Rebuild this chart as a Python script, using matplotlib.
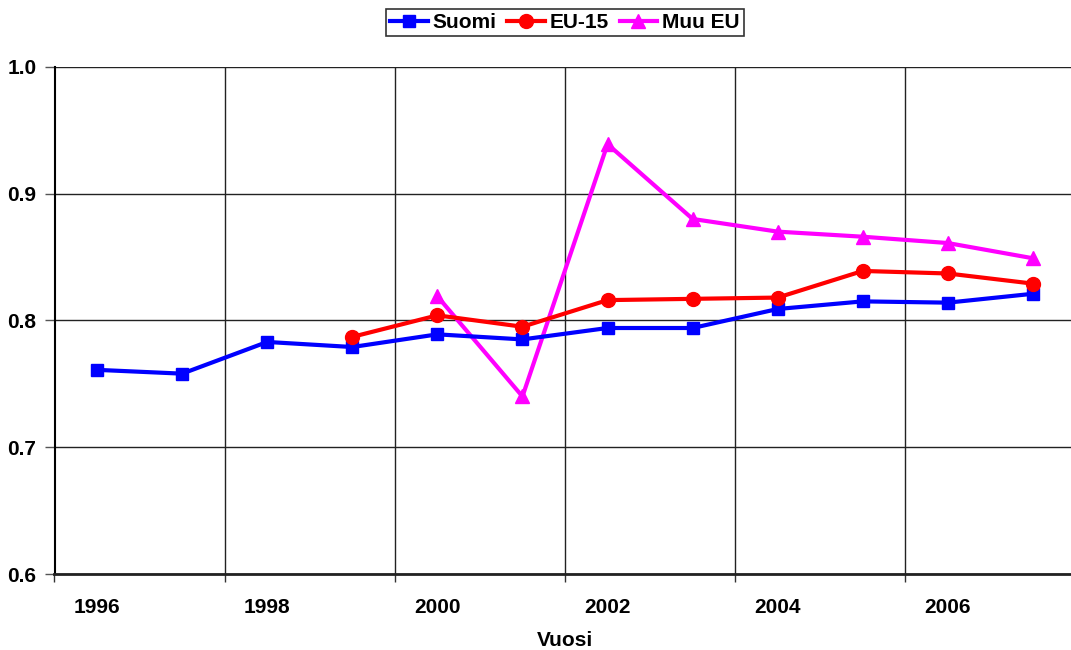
import matplotlib
matplotlib.use("Agg")
import matplotlib.pyplot as plt
from matplotlib.ticker import FixedLocator, NullFormatter

plt.rcParams['font.family'] = ['Liberation Sans', 'DejaVu Sans']

years = [1996, 1997, 1998, 1999, 2000, 2001, 2002, 2003, 2004, 2005, 2006, 2007]
suomi = [0.761, 0.758, 0.783, 0.779, 0.789, 0.785, 0.794, 0.794, 0.809, 0.815, 0.814, 0.821]
eu15 = [None, None, None, 0.787, 0.804, 0.795, 0.816, 0.817, 0.818, 0.839, 0.837, 0.829]
muu_eu = [None, None, None, None, 0.819, 0.740, 0.939, 0.880, 0.870, 0.866, 0.861, 0.849]
tick_labels = ['1996', '1998', '2000', '2002', '2004', '2006']
y_ticks = [0.6, 0.7, 0.8, 0.9, 1.0]

W, H = 1071, 650
fig = plt.figure(figsize=(W / 100, H / 100), dpi=100)
left, right, top, bottom = 54.5, 1075.5, 66.8, 574.0
ax = fig.add_axes([left / W, 1 - bottom / H, (right - left) / W, (bottom - top) / H])

xs = list(range(len(years)))

def split(vals):
    px = [x for x, v in zip(xs, vals) if v is not None]
    py = [v for v in vals if v is not None]
    return px, py

lw = 3.0
x1, y1 = split(suomi)
ax.plot(x1, y1, color='#0000FF', lw=lw, marker='s', ms=9, label='Suomi', zorder=3)
x2, y2 = split(eu15)
ax.plot(x2, y2, color='#FF0000', lw=lw, marker='o', ms=10, label='EU-15', zorder=4)
x3, y3 = split(muu_eu)
ax.plot(x3, y3, color='#FF00FF', lw=lw, marker='^', ms=10, label='Muu EU', zorder=2)

ax.set_xlim(-0.5, len(years) - 0.5)
ax.set_ylim(0.6, 1.0)

fs = 15
# gridlines / tick marks at every second category boundary
major_x = [-0.5 + 2 * k for k in range(6)]
ax.xaxis.set_major_locator(FixedLocator(major_x))
ax.xaxis.set_major_formatter(NullFormatter())
label_pos = [years.index(int(t)) for t in tick_labels]
ax.xaxis.set_minor_locator(FixedLocator(label_pos))
ax.set_xticklabels(tick_labels, minor=True, fontsize=fs, fontweight='bold')
ax.tick_params(axis='x', which='minor', length=0, pad=17)
ax.tick_params(axis='x', which='major', length=6, width=1, direction='out', color='#333333')

ax.set_yticks(y_ticks)
ax.set_yticklabels(['%.1f' % v for v in y_ticks], fontsize=fs, fontweight='bold')
ax.tick_params(axis='y', length=7, width=1, direction='out', pad=6, color='#555555')

ax.grid(True, which='major', color='#222222', lw=1.0)
ax.set_axisbelow(True)

for s in ['top', 'right']:
    ax.spines[s].set_visible(False)
ax.spines['left'].set_linewidth(1.5)
ax.spines['left'].set_color('black')
ax.spines['bottom'].set_linewidth(2.0)
ax.spines['bottom'].set_color('#222222')

ax.set_xlabel('Vuosi', fontsize=fs, fontweight='bold', labelpad=10)

leg = fig.legend(loc='center', bbox_to_anchor=(565 / W, 1 - 22.5 / H), ncol=3,
                 frameon=True, fancybox=False, edgecolor='black',
                 prop={'weight': 'bold', 'size': fs},
                 handlelength=1.8, handletextpad=0.25, columnspacing=0.5,
                 borderpad=0.2, borderaxespad=0)
leg.get_frame().set_linewidth(1.2)

fig.savefig('out.png', dpi=100)
